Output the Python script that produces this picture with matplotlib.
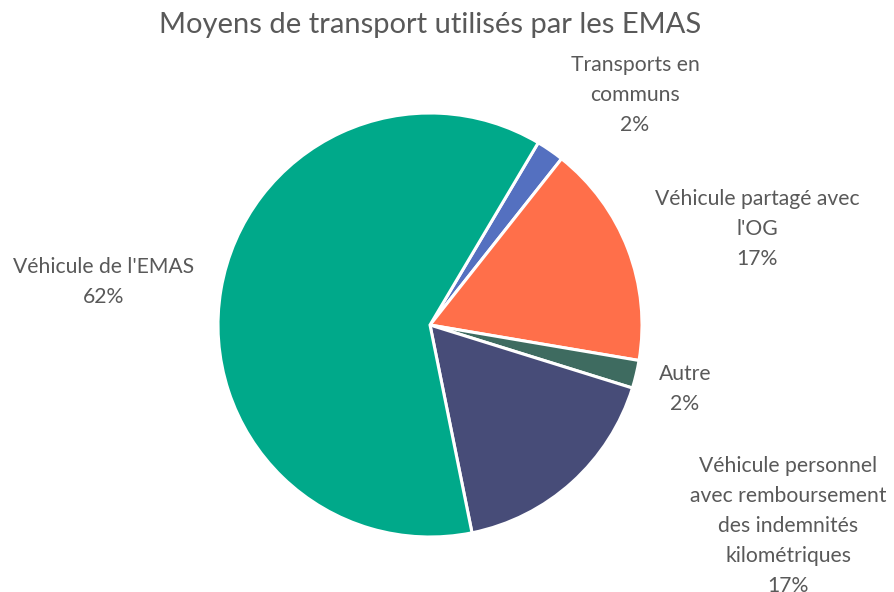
import matplotlib
matplotlib.use("Agg")
import matplotlib.pyplot as plt

categories = ["Transports en\ncommuns", "Véhicule partagé avec\nl'OG", "Autre",
              "Véhicule personnel\navec remboursement\ndes indemnités\nkilométriques",
              "Véhicule de l'EMAS"]
values = [1, 8, 1, 8, 29]
colors = ["#5470C0", "#FF6F4A", "#3E6B60", "#474C78", "#00A98A"]
label_pos = [(0.967, 1.085), (1.542, 0.453), (1.203, -0.302), (1.689, -0.948), (-1.538, 0.203)]
title = "Moyens de transport utilisés par les EMAS"

plt.rcParams['font.family'] = ['Lato', 'DejaVu Sans']
W, H = 895, 592
fig = plt.figure(figsize=(W / 100, H / 100), dpi=100)
cx, cy, r = 430, 325, 212
ax = fig.add_axes([(cx - r) / W, (H - cy - r) / H, 2 * r / W, 2 * r / H])
ax.pie(values, colors=colors, startangle=59.3, counterclock=False, radius=1,
       wedgeprops=dict(edgecolor="white", linewidth=2.2))
ax.set_xlim(-1, 1)
ax.set_ylim(-1, 1)
ax.set_aspect("equal")
ax.axis("off")

total = sum(values)
for cat, v, (x, y) in zip(categories, values, label_pos):
    ax.text(x, y, f"{cat}\n{round(100 * v / total)}%", ha="center", va="center",
            fontsize=15.2, color="#595959", linespacing=1.62, clip_on=False)

fig.text(430 / W, 1 - 25 / H, title, ha="center", va="center", fontsize=21, color="#595959")
fig.savefig("out.png", dpi=100, facecolor="white")
